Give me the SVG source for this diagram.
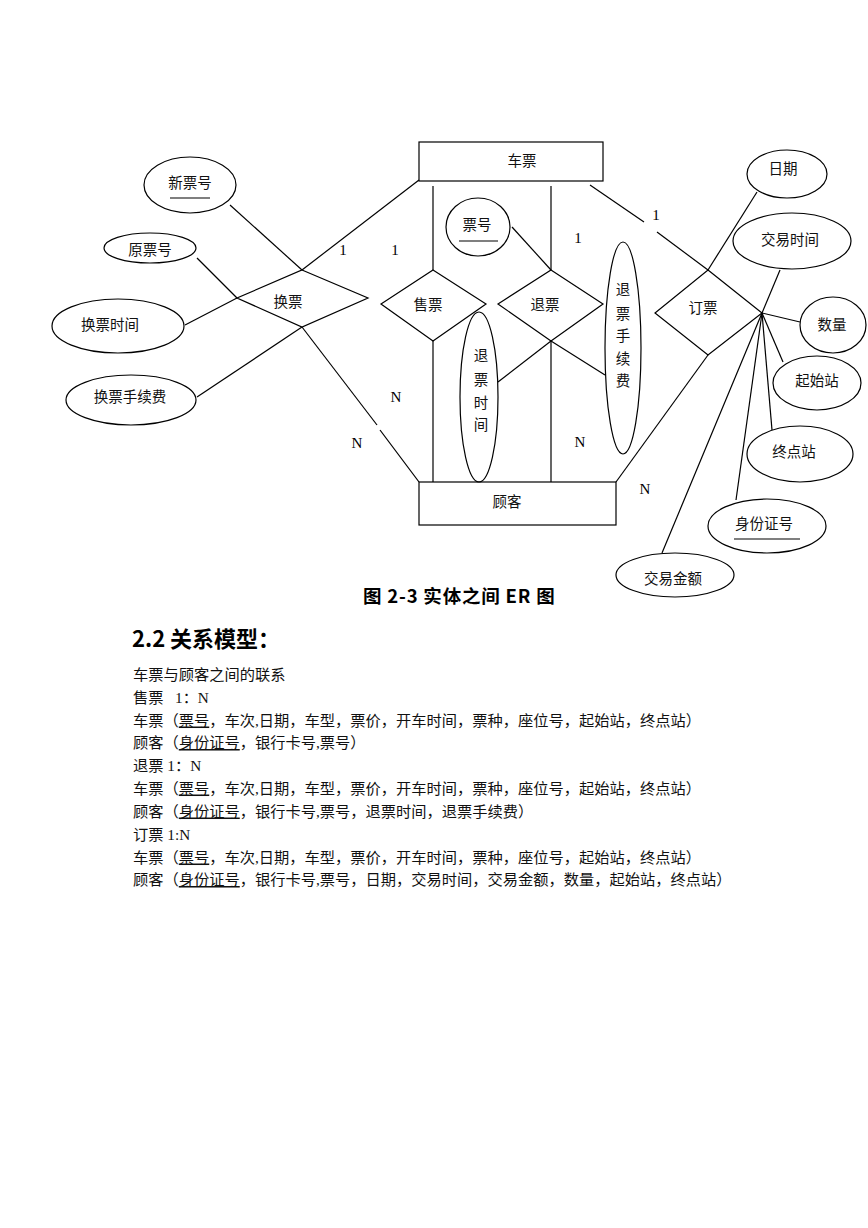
<svg xmlns="http://www.w3.org/2000/svg" width="868" height="1228" viewBox="0 0 868 1228">
<style>
.s{fill:none;stroke:#000;stroke-width:1.2}
.e{fill:none;stroke:#000;stroke-width:1.2}
.r{fill:#fff;stroke:#000;stroke-width:1.2}
.t{font-family:"Noto Sans CJK SC","Liberation Serif",sans-serif;font-size:14.5px;fill:#111;text-anchor:middle;dominant-baseline:central}
.m{font-family:"Liberation Serif","Noto Sans CJK SC",serif;font-size:15px;fill:#000;text-anchor:middle;dominant-baseline:central}
.b{font-family:"Liberation Serif","Noto Sans CJK SC",serif;font-size:15.25px;fill:#111}
.u{text-decoration:underline}
.cap{font-family:"Noto Sans CJK SC",sans-serif;font-weight:bold;fill:#000}
</style>
<rect width="868" height="1228" fill="#fff"/>
<g id="connectors">
<line class="s" x1="230" y1="205" x2="302" y2="270"/>
<line class="s" x1="197" y1="258" x2="237" y2="298"/>
<line class="s" x1="185" y1="325" x2="237" y2="298"/>
<line class="s" x1="197" y1="397" x2="302" y2="327"/>
<line class="s" x1="302" y1="270" x2="419" y2="180"/>
<line class="s" x1="302" y1="327" x2="377" y2="425"/>
<line class="s" x1="380" y1="430" x2="419" y2="482"/>
<line class="s" x1="433" y1="186" x2="433" y2="270"/>
<line class="s" x1="433" y1="341" x2="433" y2="482"/>
<line class="s" x1="551" y1="186" x2="551" y2="270"/>
<line class="s" x1="551" y1="341" x2="551" y2="482"/>
<line class="s" x1="512" y1="227" x2="551" y2="270"/>
<line class="s" x1="551" y1="341" x2="498" y2="382"/>
<line class="s" x1="551" y1="341" x2="605" y2="375"/>
<line class="s" x1="590" y1="185" x2="644" y2="222"/>
<line class="s" x1="657" y1="232" x2="708" y2="270"/>
<line class="s" x1="757" y1="192" x2="708" y2="270"/>
<line class="s" x1="780" y1="270" x2="762" y2="313"/>
<line class="s" x1="762" y1="313" x2="800" y2="322"/>
<line class="s" x1="762" y1="313" x2="783" y2="362"/>
<line class="s" x1="762" y1="313" x2="772" y2="430"/>
<line class="s" x1="762" y1="313" x2="736" y2="500"/>
<line class="s" x1="762" y1="313" x2="662" y2="553"/>
<line class="s" x1="708" y1="355" x2="616" y2="482"/>
</g>
<g id="ticket">
<rect class="r" x="419" y="142" width="184" height="39"/>
<text class="t" x="522" y="159">车票</text>
</g>
<g id="customer">
<rect class="r" x="419" y="482" width="197" height="43"/>
<text class="t" x="507" y="500">顾客</text>
</g>
<g id="exchange">
<polygon class="e" points="302,270 368,298 302,327 237,298"/>
<text class="t" x="288" y="300">换票</text>
</g>
<g id="sell">
<polygon class="e" points="433,270 486,304 433,341 381,304"/>
<text class="t" x="428" y="303">售票</text>
</g>
<g id="refund">
<polygon class="e" points="551,270 603,304 551,341 498,304"/>
<text class="t" x="545" y="303">退票</text>
</g>
<g id="order">
<polygon class="e" points="708,270 762,313 708,355 655,313"/>
<text class="t" x="703" y="306">订票</text>
</g>
<g id="new-ticket-no">
<ellipse class="e" cx="190" cy="185" rx="46" ry="28"/>
<text class="t" x="190" y="181">新票号</text>
<line class="s" x1="170" y1="198" x2="210" y2="198"/>
</g>
<g id="old-ticket-no">
<ellipse class="e" cx="150" cy="248" rx="46" ry="15"/>
<text class="t" x="150" y="248">原票号</text>
</g>
<g id="exchange-time">
<ellipse class="e" cx="118" cy="326" rx="66" ry="27"/>
<text class="t" x="110" y="323">换票时间</text>
</g>
<g id="exchange-fee">
<ellipse class="e" cx="131" cy="400" rx="65" ry="25"/>
<text class="t" x="130" y="395">换票手续费</text>
</g>
<g id="ticket-no">
<ellipse class="e" cx="478" cy="227" rx="32" ry="29"/>
<text class="t" x="477" y="223">票号</text>
<line class="s" x1="459" y1="241" x2="498" y2="241"/>
</g>
<g id="refund-time">
<ellipse class="e" cx="479" cy="397" rx="19" ry="85"/>
<text class="t" x="481" y="354">退</text>
<text class="t" x="481" y="378">票</text>
<text class="t" x="481" y="401">时</text>
<text class="t" x="481" y="423">间</text>
</g>
<g id="refund-fee">
<ellipse class="e" cx="623" cy="348" rx="18" ry="106"/>
<text class="t" x="623" y="288">退</text>
<text class="t" x="623" y="312">票</text>
<text class="t" x="623" y="334">手</text>
<text class="t" x="623" y="357">续</text>
<text class="t" x="623" y="379">费</text>
</g>
<g id="date">
<ellipse class="e" cx="787" cy="174" rx="40" ry="24"/>
<text class="t" x="783" y="167">日期</text>
</g>
<g id="trade-time">
<ellipse class="e" cx="792" cy="241" rx="59" ry="28"/>
<text class="t" x="790" y="238">交易时间</text>
</g>
<g id="quantity">
<ellipse class="e" cx="833" cy="325" rx="33" ry="28"/>
<text class="t" x="832" y="323">数量</text>
</g>
<g id="start-station">
<ellipse class="e" cx="817" cy="383" rx="44" ry="27"/>
<text class="t" x="817" y="379">起始站</text>
</g>
<g id="end-station">
<ellipse class="e" cx="800" cy="454" rx="53" ry="28"/>
<text class="t" x="794" y="450">终点站</text>
</g>
<g id="id-no">
<ellipse class="e" cx="767" cy="526" rx="59" ry="27"/>
<text class="t" x="764" y="522">身份证号</text>
<line class="s" x1="734" y1="539" x2="800" y2="539"/>
</g>
<g id="trade-amount">
<ellipse class="e" cx="675" cy="575" rx="59" ry="22"/>
<text class="t" x="673" y="577">交易金额</text>
</g>
<g id="cardinalities">
<text class="m" x="343" y="250">1</text>
<text class="m" x="395" y="250">1</text>
<text class="m" x="578" y="238">1</text>
<text class="m" x="656" y="215">1</text>
<text class="m" x="396" y="397">N</text>
<text class="m" x="357" y="443">N</text>
<text class="m" x="580" y="442">N</text>
<text class="m" x="645" y="489">N</text>
</g>
<text class="cap" x="363" y="603" font-size="18.5" letter-spacing="0.8">图 2-3 实体之间 ER 图</text>
<text class="cap" x="132" y="647" font-size="22">2.2 关系模型：</text>
<g id="body">
<text class="b" x="133" y="679.5">车票与顾客之间的联系</text>
<text class="b" x="133" y="702.5">售票<tspan x="175">1：N</tspan></text>
<text class="b" x="133" y="725.5">车票（<tspan class="u">票号</tspan>，车次,日期，车型，票价，开车时间，票种，座位号，起始站，终点站）</text>
<text class="b" x="133" y="748">顾客（<tspan class="u">身份证号</tspan>，银行卡号,票号）</text>
<text class="b" x="133" y="770.5">退票 1：N</text>
<text class="b" x="133" y="793.5">车票（<tspan class="u">票号</tspan>，车次,日期，车型，票价，开车时间，票种，座位号，起始站，终点站）</text>
<text class="b" x="133" y="816.5">顾客（<tspan class="u">身份证号</tspan>，银行卡号,票号，退票时间，退票手续费）</text>
<text class="b" x="133" y="839.5">订票 1:N</text>
<text class="b" x="133" y="862.5">车票（<tspan class="u">票号</tspan>，车次,日期，车型，票价，开车时间，票种，座位号，起始站，终点站）</text>
<text class="b" x="133" y="885">顾客（<tspan class="u">身份证号</tspan>，银行卡号,票号，日期，交易时间，交易金额，数量，起始站，终点站）</text>
</g>
</svg>
